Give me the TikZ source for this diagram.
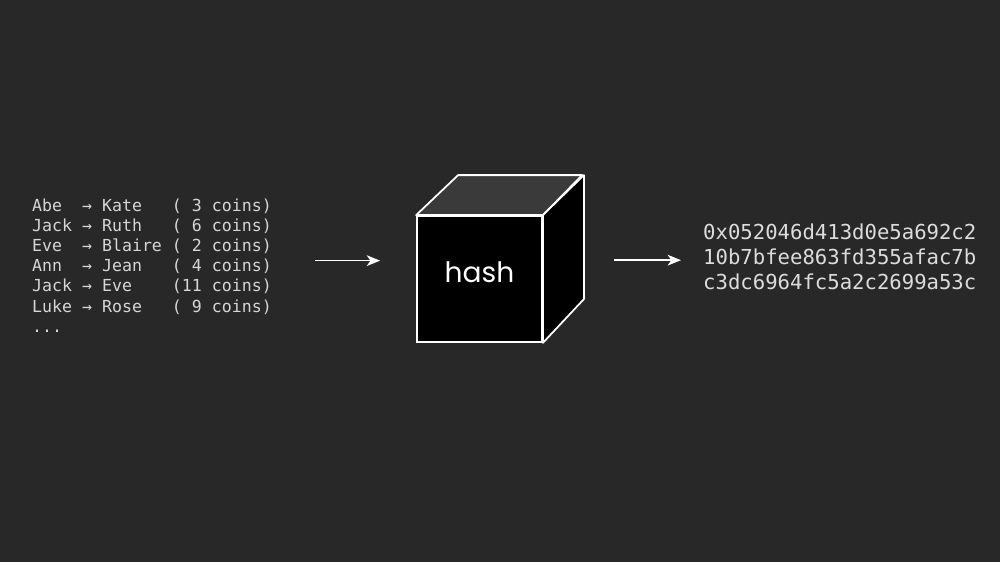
\documentclass[tikz,border=0pt]{standalone}
\usepackage{fontspec}
\setmonofont{DejaVu Sans Mono}
\newfontfamily\fuenteHash{Poppins}
\usetikzlibrary{arrows.meta, positioning, calc}
\definecolor{fondoOscuro}{HTML}{282828}
\definecolor{grisCara}{HTML}{3A3A3A}
\definecolor{grisTexto}{HTML}{D6D6D6}
\colorlet{colLinea}{white}
\colorlet{colTexto}{grisTexto}
\tikzset{
  caraFrontal/.style={
    draw=colLinea, line width=1.5pt, fill=black,
    minimum width=37.5mm, minimum height=37.8mm, inner sep=0pt
  },
  caraOculta/.style={draw=colLinea, line width=1.5pt, line join=round},
  caraSuperior/.style={caraOculta, fill=grisCara},
  caraLateral/.style={caraOculta, fill=black},
  textoLista/.style={
    font=\ttfamily\fontsize{14.15pt}{17.1pt}\selectfont,
    text=colTexto, align=left, inner sep=0pt
  },
  textoDigest/.style={
    font=\ttfamily\fontsize{17.6pt}{21.3pt}\selectfont,
    text=colTexto!85!white, align=left, inner sep=0pt
  },
  textoHash/.style={font=\fuenteHash\fontsize{24pt}{28pt}\selectfont, text=white, inner sep=0pt},
  flecha/.style={-{Stealth[length=4mm, width=3.2mm, inset=1.1mm]}, line width=1.4pt, colLinea},
}

\begin{document}
\begin{tikzpicture}[x=0.3mm, y=-0.3mm]
    \fill[fondoOscuro] (0,0) rectangle (1000,562);
    \useasboundingbox (0,0) rectangle (1000,562);
    % lista de transacciones
    \node[textoLista, anchor=north west] (lista) at (32,199) {%
      Abe~~→~Kate~~~(~3~coins)\\
      Jack~→~Ruth~~~(~6~coins)\\
      Eve~~→~Blaire~(~2~coins)\\
      Ann~~→~Jean~~~(~4~coins)\\
      Jack~→~Eve~~~~(11~coins)\\
      Luke~→~Rose~~~(~9~coins)\\
      ...};
    % cubo
    \node[caraFrontal] (cubo) at (479.5,279) {};
    \draw[caraSuperior] (cubo.north west) -- ++(42,-40) -- ++(124,0) -- (cubo.north east) -- cycle;
    \draw[caraLateral] (cubo.north east) -- ++(41,-40) -- ++(0,124) -- (cubo.south east) -- cycle;
    \node[textoHash] (etiquetaHash) at ([yshift=2.1mm]cubo.center) {hash};
    % resultado
    \node[textoDigest, anchor=north west] (digest) at (703,224) {%
      0x052046d413d0e5a692c2\\
      10b7bfee863fd355afac7b\\
      c3dc6964fc5a2c2699a53c};
    \draw[flecha, shorten <=12.9mm, shorten >=10.8mm]
      ([yshift=1.5mm]lista.east) -- ([yshift=1.5mm]lista.east -| cubo.west);
    \draw[flecha, shorten <=21.3mm, shorten >=6.6mm]
      ([yshift=-0.9mm]cubo.east |- digest.west) -- ([yshift=-0.9mm]digest.west);
  \end{tikzpicture}
\end{document}
